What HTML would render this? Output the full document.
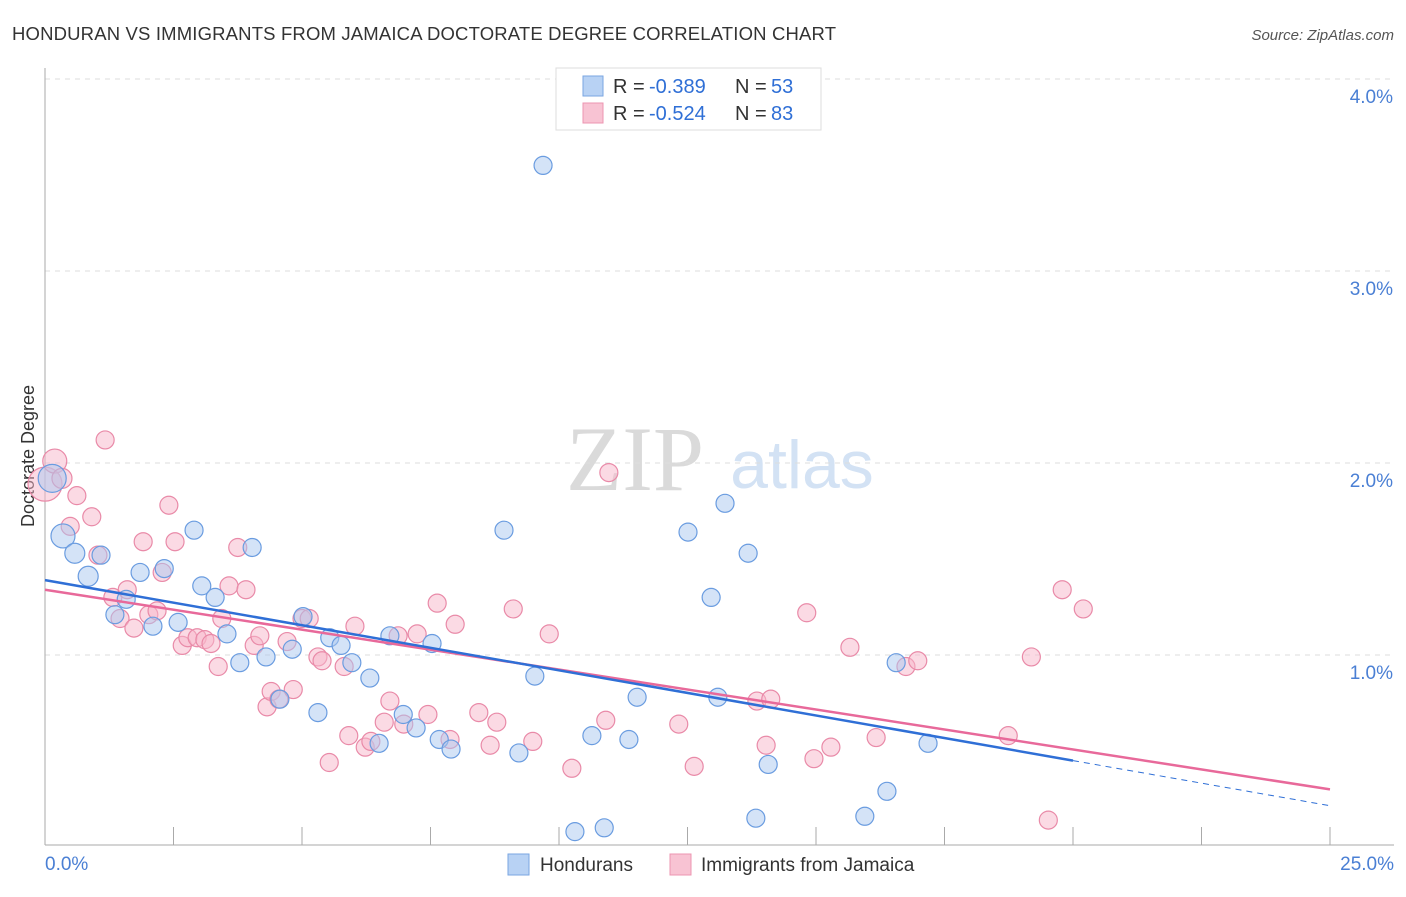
<!DOCTYPE html>
<html><head><meta charset="utf-8"><style>
body{margin:0;background:#fff;font-family:"Liberation Sans",sans-serif;}
svg text{font-family:"Liberation Sans",sans-serif;}
</style></head><body>
<svg id="c" width="1406" height="892" xmlns="http://www.w3.org/2000/svg">
<text x="12" y="40" font-size="18.5" fill="#333" textLength="824">HONDURAN VS IMMIGRANTS FROM JAMAICA DOCTORATE DEGREE CORRELATION CHART</text>
<text x="1394" y="40" font-size="15" fill="#555" font-style="italic" text-anchor="end">Source: ZipAtlas.com</text>
<text x="34" y="456" font-size="18" fill="#333" text-anchor="middle" transform="rotate(-90 34 456)">Doctorate Degree</text>
<g><text x="635" y="490" font-size="92" fill="#dadada" style="font-family:'Liberation Serif',serif" text-anchor="middle">ZIP</text><text x="802" y="488" font-size="68" fill="#d3e2f4" text-anchor="middle">atlas</text></g>
<g id="grid"></g><g id="axes"></g><g id="pts"></g><g id="lines"></g>
<g>
<rect x="556" y="68" width="265" height="62" fill="#fff" stroke="#ddd"/>
<rect x="583" y="76" width="20" height="20" fill="#b8d2f4" stroke="#7aa6e2"/>
<text x="613" y="93" font-size="20" fill="#333">R =</text><text x="649" y="93" font-size="20" fill="#2f6fd6">-0.389</text>
<text x="735" y="93" font-size="20" fill="#333">N =</text><text x="771" y="93" font-size="20" fill="#2f6fd6">53</text>
<rect x="583" y="103" width="20" height="20" fill="#f8c3d3" stroke="#ec95b0"/>
<text x="613" y="120" font-size="20" fill="#333">R =</text><text x="649" y="120" font-size="20" fill="#2f6fd6">-0.524</text>
<text x="735" y="120" font-size="20" fill="#333">N =</text><text x="771" y="120" font-size="20" fill="#2f6fd6">83</text>
</g>
<g>
<rect x="508" y="854" width="21" height="21" fill="#b8d2f4" stroke="#7aa6e2"/>
<text x="540" y="871" font-size="19" fill="#333">Hondurans</text>
<rect x="670" y="854" width="21" height="21" fill="#f8c3d3" stroke="#ec95b0"/>
<text x="701" y="871" font-size="19" fill="#333">Immigrants from Jamaica</text>
</g>
</svg>
<script>
const xTicks=["0.0%","25.0%"];
const yTickVals=[1,2,3,4];
const yTickLabels=["1.0%","2.0%","3.0%","4.0%"];
const blueX=[9.69,0.14,0.35,0.58,0.84,1.09,1.36,1.58,1.85,2.10,2.32,2.59,2.90,3.05,3.31,3.54,3.79,4.03,4.30,4.57,4.81,5.02,5.31,5.54,5.76,5.97,6.32,6.50,6.71,6.97,7.22,7.53,7.67,7.90,8.93,9.22,9.53,10.31,10.64,10.88,11.36,11.52,12.51,12.96,13.09,13.23,13.68,13.83,14.07,15.95,16.38,16.56,17.18];
const blueY=[3.55,1.92,1.62,1.53,1.41,1.52,1.21,1.29,1.43,1.15,1.45,1.17,1.65,1.36,1.30,1.11,0.96,1.56,0.99,0.77,1.03,1.20,0.70,1.09,1.05,0.96,0.88,0.54,1.10,0.69,0.62,1.06,0.56,0.51,1.65,0.49,0.89,0.08,0.58,0.10,0.56,0.78,1.64,1.30,0.78,1.79,1.53,0.15,0.43,0.16,0.29,0.96,0.54];
const pinkX=[0.0,0.19,0.33,0.62,0.91,0.49,1.17,1.03,1.32,1.60,1.46,1.73,1.91,2.02,2.18,2.28,2.41,2.53,2.67,2.78,2.96,3.11,3.23,3.37,3.44,3.58,3.75,3.91,4.07,4.18,4.32,4.40,4.55,4.71,4.83,5.00,5.14,5.31,5.39,5.53,5.82,5.91,6.03,6.23,6.34,6.60,6.71,6.87,6.98,7.24,7.45,7.63,7.88,7.98,8.44,8.66,8.79,9.11,9.49,9.81,10.25,10.91,10.97,12.33,12.63,13.85,14.03,14.12,14.82,14.96,15.29,15.66,16.17,16.75,16.98,18.74,19.19,19.52,19.79,20.20];
const pinkY=[1.89,2.01,1.92,1.83,1.72,1.67,2.12,1.52,1.30,1.34,1.19,1.14,1.59,1.21,1.23,1.43,1.78,1.59,1.05,1.09,1.09,1.08,1.06,0.94,1.19,1.36,1.56,1.34,1.05,1.10,0.73,0.81,0.77,1.07,0.82,1.19,1.19,0.99,0.97,0.44,0.94,0.58,1.15,0.52,0.55,0.65,0.76,1.10,0.64,1.11,0.69,1.27,0.56,1.16,0.70,0.53,0.65,1.24,0.55,1.11,0.41,0.66,1.95,0.64,0.42,0.76,0.53,0.77,1.22,0.46,0.52,1.04,0.57,0.94,0.97,0.58,0.99,0.14,1.34,1.24];
const blueR=[9,14,12,10,10,9];
const pinkR=[17,12,10,9];
const blueTrend=[1.39,-0.047];
const pinkTrend=[1.34,-0.0416];
const NS="http://www.w3.org/2000/svg";
const X=v=>45+v/25*1285, Y=v=>847-v*192;
function mk(t,a,p){const e=document.createElementNS(NS,t);for(const k in a)e.setAttribute(k,a[k]);p.appendChild(e);return e;}
const grid=document.getElementById('grid'),axes=document.getElementById('axes'),pts=document.getElementById('pts'),lines=document.getElementById('lines');
yTickVals.forEach((v,i)=>{
 const l=mk('line',{x1:45,x2:1394,y1:Y(v),y2:Y(v),stroke:'#ddd','stroke-dasharray':'5,5'},grid);
 
 
 const t=mk('text',{x:1393,y:Y(v)+24,'font-size':19,fill:'#4a7fd4','text-anchor':'end'},axes);t.textContent=yTickLabels[i];
 
 
});
const ax=mk('line',{x1:45,x2:45,y1:68,y2:845,stroke:'#aaa'},axes);


const bx=mk('line',{x1:45,x2:1394,y1:845,y2:845,stroke:'#aaa'},axes);


for(let i=0;i<=10;i++){const tk=mk('line',{x1:X(i*2.5),x2:X(i*2.5),y1:827,y2:845,stroke:'#aaa'},axes);
 
 }
[[0,'start',45],[1,'end',1394]].forEach(([i,a,x])=>{const t=mk('text',{x:x,y:870,'font-size':19,fill:'#4a7fd4','text-anchor':a},axes);t.textContent=xTicks[i];
 
 });
function dots(xs,ys,rs,fill,stroke,name){xs.forEach((x,i)=>{const c=mk('circle',{cx:X(x),cy:Y(ys[i]),r:rs[i]||9,fill:fill,'fill-opacity':0.5,stroke:stroke,'stroke-width':1.2},pts);
 
 });}
dots(pinkX,pinkY,pinkR,'#f7b6ca','#e98aa8','jamaica-point');
dots(blueX,blueY,blueR,'#a9c8f0','#6a9ce0','honduran-point');
function tl(tr,x0,x1,col,dash,name){const l=mk('line',{x1:X(x0),y1:Y(tr[0]+tr[1]*x0),x2:X(x1),y2:Y(tr[0]+tr[1]*x1),stroke:col,'stroke-width':dash?1:2.5},lines);if(dash)l.setAttribute('stroke-dasharray','6,5');
 
 }
tl(pinkTrend,0,25,'#e8699a',false,'jamaica-trendline');
tl(blueTrend,0,20,'#2f6fd6',false,'honduran-trendline');
tl(blueTrend,20,25,'#2f6fd6',true,'honduran-trendline-extension');
</script>
</body></html>
